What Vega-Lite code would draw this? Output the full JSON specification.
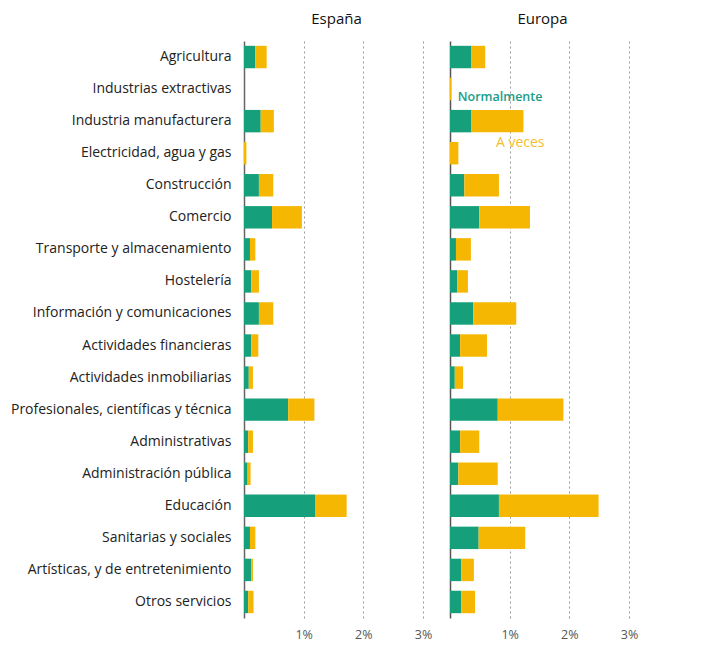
{
  "$schema": "https://vega.github.io/schema/vega-lite/v6.json",
  "background": "white",
  "padding": {"left": 10, "top": 12, "right": 5, "bottom": 5},
  "config": {
    "font": "Open Sans",
    "view": {"stroke": null},
    "title": {"fontSize": 15, "fontWeight": "normal", "color": "#111", "anchor": "middle", "offset": 14, "font": "Open Sans"},
    "concat": {"spacing": 18}
  },
  "datasets": {
    "d": [
      {"sector": "Agricultura", "region": "España", "tipo": "Normalmente", "valor": 0.19},
      {"sector": "Agricultura", "region": "España", "tipo": "A veces", "valor": 0.19},
      {"sector": "Industrias extractivas", "region": "España", "tipo": "Normalmente", "valor": 0},
      {"sector": "Industrias extractivas", "region": "España", "tipo": "A veces", "valor": 0},
      {"sector": "Industria manufacturera", "region": "España", "tipo": "Normalmente", "valor": 0.28},
      {"sector": "Industria manufacturera", "region": "España", "tipo": "A veces", "valor": 0.22},
      {"sector": "Electricidad, agua y gas", "region": "España", "tipo": "Normalmente", "valor": 0},
      {"sector": "Electricidad, agua y gas", "region": "España", "tipo": "A veces", "valor": 0.04},
      {"sector": "Construcción", "region": "España", "tipo": "Normalmente", "valor": 0.25},
      {"sector": "Construcción", "region": "España", "tipo": "A veces", "valor": 0.24},
      {"sector": "Comercio", "region": "España", "tipo": "Normalmente", "valor": 0.47},
      {"sector": "Comercio", "region": "España", "tipo": "A veces", "valor": 0.5},
      {"sector": "Transporte y almacenamiento", "region": "España", "tipo": "Normalmente", "valor": 0.1},
      {"sector": "Transporte y almacenamiento", "region": "España", "tipo": "A veces", "valor": 0.09},
      {"sector": "Hostelería", "region": "España", "tipo": "Normalmente", "valor": 0.12},
      {"sector": "Hostelería", "region": "España", "tipo": "A veces", "valor": 0.13},
      {"sector": "Información y comunicaciones", "region": "España", "tipo": "Normalmente", "valor": 0.25},
      {"sector": "Información y comunicaciones", "region": "España", "tipo": "A veces", "valor": 0.24},
      {"sector": "Actividades financieras", "region": "España", "tipo": "Normalmente", "valor": 0.12},
      {"sector": "Actividades financieras", "region": "España", "tipo": "A veces", "valor": 0.12},
      {"sector": "Actividades inmobiliarias", "region": "España", "tipo": "Normalmente", "valor": 0.08},
      {"sector": "Actividades inmobiliarias", "region": "España", "tipo": "A veces", "valor": 0.07},
      {"sector": "Profesionales, científicas y técnica", "region": "España", "tipo": "Normalmente", "valor": 0.74},
      {"sector": "Profesionales, científicas y técnica", "region": "España", "tipo": "A veces", "valor": 0.44},
      {"sector": "Administrativas", "region": "España", "tipo": "Normalmente", "valor": 0.07},
      {"sector": "Administrativas", "region": "España", "tipo": "A veces", "valor": 0.08},
      {"sector": "Administración pública", "region": "España", "tipo": "Normalmente", "valor": 0.06},
      {"sector": "Administración pública", "region": "España", "tipo": "A veces", "valor": 0.05},
      {"sector": "Educación", "region": "España", "tipo": "Normalmente", "valor": 1.19},
      {"sector": "Educación", "region": "España", "tipo": "A veces", "valor": 0.53},
      {"sector": "Sanitarias y sociales", "region": "España", "tipo": "Normalmente", "valor": 0.1},
      {"sector": "Sanitarias y sociales", "region": "España", "tipo": "A veces", "valor": 0.09},
      {"sector": "Artísticas, y de entretenimiento", "region": "España", "tipo": "Normalmente", "valor": 0.12},
      {"sector": "Artísticas, y de entretenimiento", "region": "España", "tipo": "A veces", "valor": 0.03},
      {"sector": "Otros servicios", "region": "España", "tipo": "Normalmente", "valor": 0.07},
      {"sector": "Otros servicios", "region": "España", "tipo": "A veces", "valor": 0.09},
      {"sector": "Agricultura", "region": "Europa", "tipo": "Normalmente", "valor": 0.36},
      {"sector": "Agricultura", "region": "Europa", "tipo": "A veces", "valor": 0.23},
      {"sector": "Industrias extractivas", "region": "Europa", "tipo": "Normalmente", "valor": 0},
      {"sector": "Industrias extractivas", "region": "Europa", "tipo": "A veces", "valor": 0.02},
      {"sector": "Industria manufacturera", "region": "Europa", "tipo": "Normalmente", "valor": 0.36},
      {"sector": "Industria manufacturera", "region": "Europa", "tipo": "A veces", "valor": 0.87},
      {"sector": "Electricidad, agua y gas", "region": "Europa", "tipo": "Normalmente", "valor": 0},
      {"sector": "Electricidad, agua y gas", "region": "Europa", "tipo": "A veces", "valor": 0.14},
      {"sector": "Construcción", "region": "Europa", "tipo": "Normalmente", "valor": 0.24},
      {"sector": "Construcción", "region": "Europa", "tipo": "A veces", "valor": 0.58},
      {"sector": "Comercio", "region": "Europa", "tipo": "Normalmente", "valor": 0.49},
      {"sector": "Comercio", "region": "Europa", "tipo": "A veces", "valor": 0.85},
      {"sector": "Transporte y almacenamiento", "region": "Europa", "tipo": "Normalmente", "valor": 0.1},
      {"sector": "Transporte y almacenamiento", "region": "Europa", "tipo": "A veces", "valor": 0.25},
      {"sector": "Hostelería", "region": "Europa", "tipo": "Normalmente", "valor": 0.12},
      {"sector": "Hostelería", "region": "Europa", "tipo": "A veces", "valor": 0.18},
      {"sector": "Información y comunicaciones", "region": "Europa", "tipo": "Normalmente", "valor": 0.39},
      {"sector": "Información y comunicaciones", "region": "Europa", "tipo": "A veces", "valor": 0.72},
      {"sector": "Actividades financieras", "region": "Europa", "tipo": "Normalmente", "valor": 0.17},
      {"sector": "Actividades financieras", "region": "Europa", "tipo": "A veces", "valor": 0.45},
      {"sector": "Actividades inmobiliarias", "region": "Europa", "tipo": "Normalmente", "valor": 0.08},
      {"sector": "Actividades inmobiliarias", "region": "Europa", "tipo": "A veces", "valor": 0.14},
      {"sector": "Profesionales, científicas y técnica", "region": "Europa", "tipo": "Normalmente", "valor": 0.8},
      {"sector": "Profesionales, científicas y técnica", "region": "Europa", "tipo": "A veces", "valor": 1.1},
      {"sector": "Administrativas", "region": "Europa", "tipo": "Normalmente", "valor": 0.17},
      {"sector": "Administrativas", "region": "Europa", "tipo": "A veces", "valor": 0.32},
      {"sector": "Administración pública", "region": "Europa", "tipo": "Normalmente", "valor": 0.14},
      {"sector": "Administración pública", "region": "Europa", "tipo": "A veces", "valor": 0.66},
      {"sector": "Educación", "region": "Europa", "tipo": "Normalmente", "valor": 0.82},
      {"sector": "Educación", "region": "Europa", "tipo": "A veces", "valor": 1.67},
      {"sector": "Sanitarias y sociales", "region": "Europa", "tipo": "Normalmente", "valor": 0.48},
      {"sector": "Sanitarias y sociales", "region": "Europa", "tipo": "A veces", "valor": 0.78},
      {"sector": "Artísticas, y de entretenimiento", "region": "Europa", "tipo": "Normalmente", "valor": 0.19},
      {"sector": "Artísticas, y de entretenimiento", "region": "Europa", "tipo": "A veces", "valor": 0.21},
      {"sector": "Otros servicios", "region": "Europa", "tipo": "Normalmente", "valor": 0.19},
      {"sector": "Otros servicios", "region": "Europa", "tipo": "A veces", "valor": 0.23}
    ],
    "notas": [
      {"sector": "Industrias extractivas", "x": 0.13, "label": "Normalmente"},
      {"sector": "Electricidad, agua y gas", "x": 0.77, "label": "A veces"}
    ]
  },
  "hconcat": [
    {
      "title": "España",
      "width": 185,
      "height": 577,
      "data": {"name": "d"},
      "transform": [{"filter": "datum.region === 'España'"}],
      "mark": {"type": "bar"},
      "encoding": {
        "y": {
          "field": "sector", "type": "nominal", "sort": null,
          "scale": {"paddingInner": 0.3, "paddingOuter": 0.15},
          "axis": {"title": null, "ticks": false, "domainColor": "#666", "domainWidth": 1.5, "labelFontSize": 14, "labelColor": "#222", "labelPadding": 13, "labelLimit": 300}
        },
        "x": {
          "field": "valor", "type": "quantitative", "stack": "zero",
          "scale": {"domain": [0, 3.1], "nice": false},
          "axis": {"title": null, "values": [1, 2, 3], "labelExpr": "datum.value + '%'", "domain": false, "ticks": false, "grid": true, "gridDash": [2, 3], "gridColor": "#999", "labelFontSize": 12.5, "labelColor": "#555", "labelPadding": 10}
        },
        "color": {"field": "tipo", "type": "nominal", "scale": {"domain": ["Normalmente", "A veces"], "range": ["#15a07b", "#f6b703"]}, "legend": null},
        "order": {"field": "tipo", "sort": "descending"}
      }
    },
    {
      "title": "Europa",
      "width": 185,
      "height": 577,
      "layer": [
        {
          "data": {"name": "d"},
          "transform": [{"filter": "datum.region === 'Europa'"}],
          "mark": {"type": "bar"},
          "encoding": {
            "y": {
              "field": "sector", "type": "nominal", "sort": null,
              "scale": {"paddingInner": 0.3, "paddingOuter": 0.15},
              "axis": {"title": null, "ticks": false, "labels": false, "domainColor": "#555", "domainWidth": 1.5}
            },
            "x": {
              "field": "valor", "type": "quantitative", "stack": "zero",
              "scale": {"domain": [0, 3.1], "nice": false},
              "axis": {"title": null, "values": [1, 2, 3], "labelExpr": "datum.value + '%'", "domain": false, "ticks": false, "grid": true, "gridDash": [2, 3], "gridColor": "#999", "labelFontSize": 12.5, "labelColor": "#555", "labelPadding": 10}
            },
            "color": {"field": "tipo", "type": "nominal", "scale": {"domain": ["Normalmente", "A veces"], "range": ["#15a07b", "#f6b703"]}, "legend": null},
            "order": {"field": "tipo", "sort": "descending"}
          }
        },
        {
          "data": {"name": "notas"},
          "transform": [{"filter": "datum.label === 'Normalmente'"}],
          "mark": {"type": "text", "align": "left", "fontSize": 12.5, "fontWeight": 600, "dy": 8, "color": "#1a9c88"},
          "encoding": {
            "y": {"field": "sector", "type": "nominal", "sort": null},
            "x": {"field": "x", "type": "quantitative"},
            "text": {"field": "label"}
          }
        },
        {
          "data": {"name": "notas"},
          "transform": [{"filter": "datum.label === 'A veces'"}],
          "mark": {"type": "text", "align": "left", "fontSize": 14, "fontWeight": 500, "dy": -10, "color": "#f4bd2e"},
          "encoding": {
            "y": {"field": "sector", "type": "nominal", "sort": null},
            "x": {"field": "x", "type": "quantitative"},
            "text": {"field": "label"}
          }
        }
      ]
    }
  ]
}
